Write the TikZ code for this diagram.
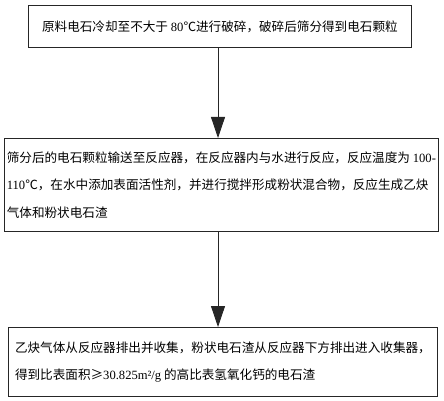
\documentclass[tikz,border=0pt]{standalone}
\usepackage{fontspec}
\setmainfont{Noto Sans CJK SC}
\newfontfamily\lat{Liberation Serif}
\usetikzlibrary{arrows.meta}
\begin{document}
\begin{tikzpicture}[x=1pt,y=-1pt,
  box/.style={draw=black!85,line width=0.8pt,rectangle,anchor=north west,inner sep=0pt,
    font=\fontsize{12.6}{27.5}\selectfont,align=left},
  arr/.style={draw=black!85,line width=0.8pt,-{Triangle[length=21pt,width=14pt]}}]
\useasboundingbox (0,0) rectangle (444,401);
\node[box,minimum width=383pt,minimum height=42pt] (b1) at (28,5)
  {原料电石冷却至不大于 {\lat 80}℃进行破碎，破碎后筛分得到电石颗粒};
\node[box,minimum width=434pt,minimum height=93pt] (b2) at (4,138)
  {筛分后的电石颗粒输送至反应器，在反应器内与水进行反应，反应温度为 {\lat 100-}\\
   {\lat 110}℃，在水中添加表面活性剂，并进行搅拌形成粉状混合物，反应生成乙炔\\
   气体和粉状电石渣};
\node[box,minimum width=429pt,minimum height=69pt] (b3) at (8,327)
  {乙炔气体从反应器排出并收集，粉状电石渣从反应器下方排出进入收集器，\\
   得到比表面积≥{\lat 30.825m²/g} 的高比表氢氧化钙的电石渣};
\coordinate (ax) at (218,0);
\draw[arr] (b1.south -| ax) -- (b2.north -| ax);
\draw[arr] (b2.south -| ax) -- (b3.north -| ax);
\end{tikzpicture}
\end{document}
